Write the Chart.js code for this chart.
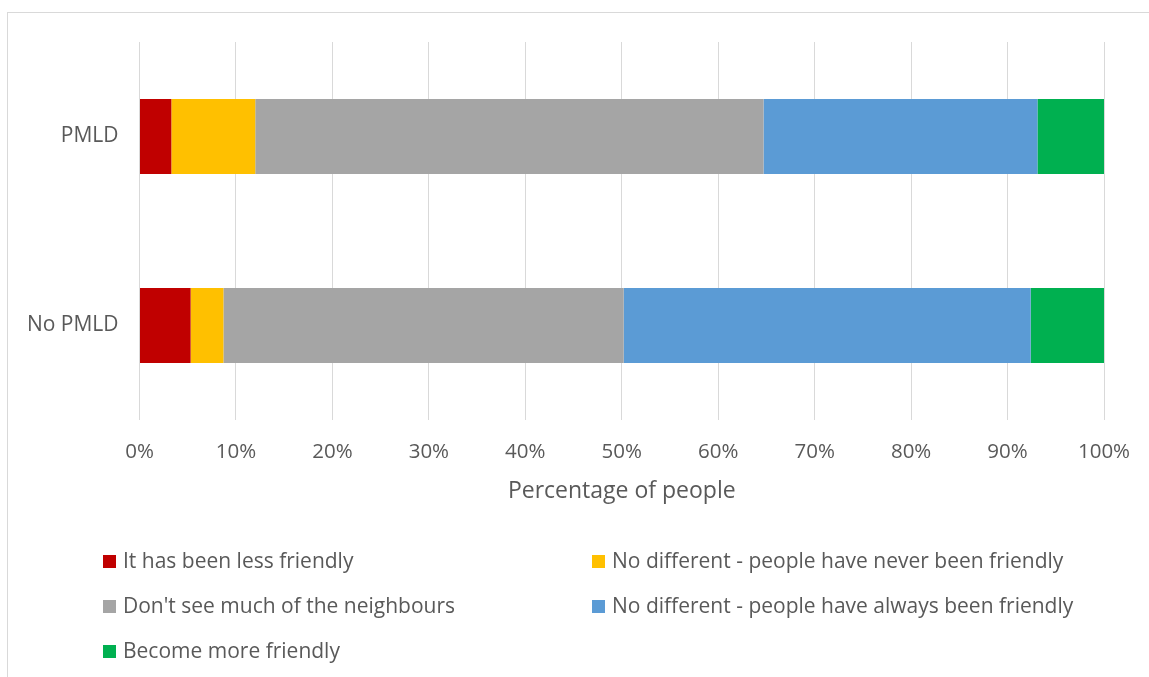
<!DOCTYPE html>
<html>
<head>
<meta charset="utf-8">
<script src="https://cdn.jsdelivr.net/npm/chart.js@4"></script>
<style>
  html, body { margin: 0; padding: 0; background: #fff; }
  #wrap { position: relative; width: 1149px; height: 677px; overflow: hidden; }
  #frame { position: absolute; left: 7px; top: 12px; width: 1160px; height: 700px; border-left: 1px solid #d9d9d9; border-top: 1px solid #d9d9d9; box-sizing: border-box; }
  canvas { position: absolute; left: 0; top: 0; }
  .leg { position: absolute; font-family: "Open Sans", sans-serif; font-size: 21px; color: #595959; white-space: nowrap; line-height: 24px; }
  .leg i { display: inline-block; width: 13px; height: 13px; margin-right: 7px; vertical-align: 0px; }
</style>
</head>
<body>
<div id="wrap">
  <div id="frame"></div>
  <canvas id="c" width="1149" height="677"></canvas>
  <div id="legend"></div>
</div>
<script>
const categories = ["PMLD", "No PMLD"];
const seriesNames = [
  "It has been less friendly",
  "No different - people have never been friendly",
  "Don't see much of the neighbours",
  "No different - people have always been friendly",
  "Become more friendly"
];
const lessFriendly    = [3.3, 5.3];
const neverFriendly   = [8.7, 3.4];
const dontSee         = [52.7, 41.5];
const alwaysFriendly  = [28.4, 42.2];
const moreFriendly    = [6.9, 7.6];
const tickLabels = ["0%", "10%", "20%", "30%", "40%", "50%", "60%", "70%", "80%", "90%", "100%"];
const colors = ["#C00000", "#FFC000", "#A5A5A5", "#5B9BD5", "#00B050"];
const values = [lessFriendly, neverFriendly, dontSee, alwaysFriendly, moreFriendly];

const font = "'Open Sans', sans-serif";
const chart = new Chart(document.getElementById('c'), {
  type: 'bar',
  data: {
    labels: categories,
    datasets: seriesNames.map((n, i) => ({
      label: n, data: values[i], backgroundColor: colors[i],
      borderWidth: 0, barPercentage: 0.8, categoryPercentage: 0.497
    }))
  },
  options: {
    indexAxis: 'y',
    responsive: false,
    animation: false,
    layout: { padding: { left: 0, right: 45, top: 42, bottom: 172 } },
    plugins: { legend: { display: false }, tooltip: { enabled: false } },
    scales: {
      x: {
        stacked: true, min: 0, max: 100,
        ticks: { stepSize: 10, callback: (v, i) => tickLabels[i], color: '#595959', font: { family: font, size: 20.5 }, padding: 20, maxRotation: 0 },
        grid: { color: '#d9d9d9', drawTicks: false, lineWidth: 1 },
        border: { display: false },
        title: { display: true, text: 'Percentage of people', color: '#595959', font: { family: font, size: 23 }, padding: { top: 0, bottom: 0 } },
        afterFit: s => { s.height = 85; s.paddingRight = 0; }
      },
      y: {
        stacked: true,
        ticks: { color: '#595959', font: { family: font, size: 21 }, padding: 21 },
        grid: { display: false, drawTicks: false },
        border: { display: false },
        afterFit: s => { s.width = 139.5; }
      }
    }
  }
});

// legend built from the chart's datasets
const leg = document.getElementById('legend');
const pos = [[103, 548], [592, 548], [103, 593], [592, 593], [103, 638]];
chart.data.datasets.forEach((d, i) => {
  const el = document.createElement('div');
  el.className = 'leg';
  el.style.left = pos[i][0] + 'px';
  el.style.top = pos[i][1] + 'px';
  el.innerHTML = '<i style="background:' + d.backgroundColor + '"></i>' + d.label;
  leg.appendChild(el);
});
</script>
</body>
</html>
